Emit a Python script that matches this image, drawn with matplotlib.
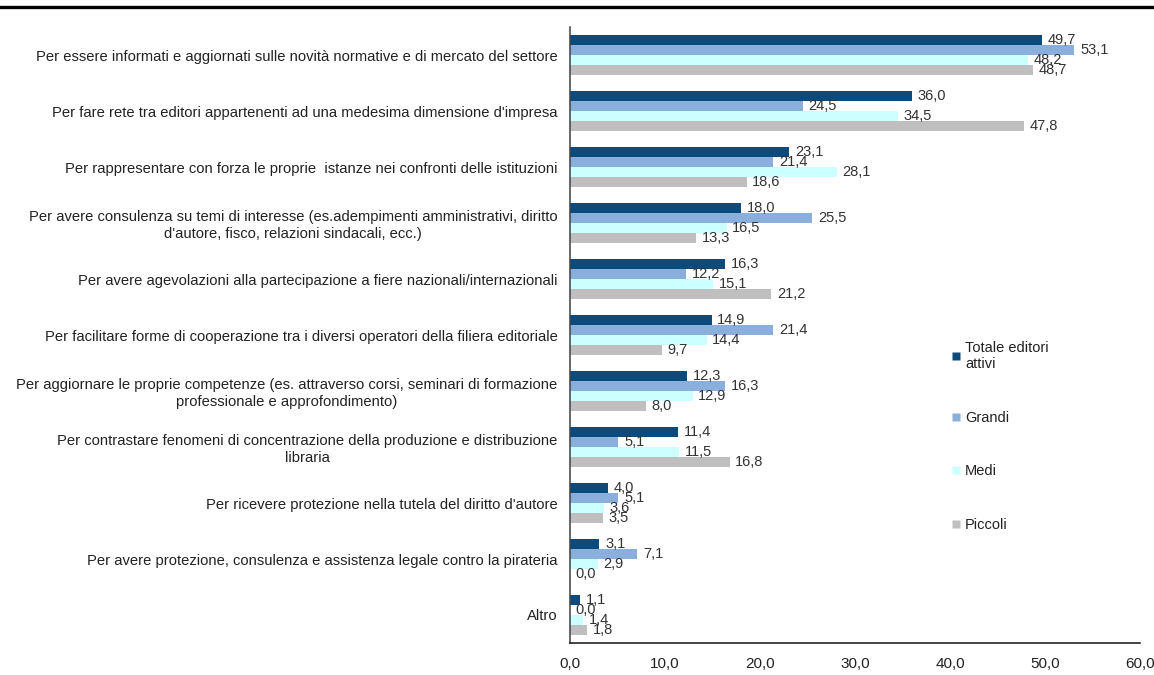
import matplotlib
matplotlib.use("Agg")
import matplotlib.pyplot as plt
from matplotlib.lines import Line2D
import numpy as np

plt.rcParams['font.family'] = ['Liberation Sans', 'DejaVu Sans']

# motivi di adesione alle associazioni di categoria (%)
motivi = [
    "Per essere informati e aggiornati sulle novità normative e di mercato del settore",
    "Per fare rete tra editori appartenenti ad una medesima dimensione d'impresa",
    "Per rappresentare con forza le proprie  istanze nei confronti delle istituzioni",
    "Per avere consulenza su temi di interesse (es.adempimenti amministrativi, diritto\nd'autore, fisco, relazioni sindacali, ecc.)",
    "Per avere agevolazioni alla partecipazione a fiere nazionali/internazionali",
    "Per facilitare forme di cooperazione tra i diversi operatori della filiera editoriale",
    "Per aggiornare le proprie competenze (es. attraverso corsi, seminari di formazione\nprofessionale e approfondimento)",
    "Per contrastare fenomeni di concentrazione della produzione e distribuzione\nlibraria",
    "Per ricevere protezione nella tutela del diritto d'autore",
    "Per avere protezione, consulenza e assistenza legale contro la pirateria",
    "Altro",
]

totale = [49.7, 36.0, 23.1, 18.0, 16.3, 14.9, 12.3, 11.4, 4.0, 3.1, 1.1]
grandi = [53.1, 24.5, 21.4, 25.5, 12.2, 21.4, 16.3, 5.1, 5.1, 7.1, 0.0]
medi = [48.2, 34.5, 28.1, 16.5, 15.1, 14.4, 12.9, 11.5, 3.6, 2.9, 1.4]
piccoli = [48.7, 47.8, 18.6, 13.3, 21.2, 9.7, 8.0, 16.8, 3.5, 0.0, 1.8]

serie = [
    ("Totale editori\nattivi", totale, "#0B4A7C"),
    ("Grandi", grandi, "#8BAFDD"),
    ("Medi", medi, "#CCFFFF"),
    ("Piccoli", piccoli, "#BFBFBF"),
]

fig = plt.figure(figsize=(11.54, 6.75), dpi=100)
ax = fig.add_axes([570 / 1154, 1 - 643 / 675, 570 / 1154, 616 / 675])

y = np.arange(len(motivi))
h = 0.183
handles = []
for i, (nome, valori, colore) in enumerate(serie):
    pos = y + (i - 1.5) * h
    ax.barh(pos, valori, height=h, color=colore, edgecolor='none')
    for p, v in zip(pos, valori):
        ax.annotate(f"{v:.1f}".replace(".", ","), (v, p), xytext=(4, 0),
                    textcoords="offset points", ha="left", va="center",
                    fontsize=10.5, color="#333333")
    handles.append(Line2D([], [], marker="s", linestyle="none", markersize=6,
                          markerfacecolor=colore, markeredgecolor="none", label=nome))

ax.set_ylim(len(motivi) - 0.5, -0.5)
ax.set_xlim(0, 60)
ax.set_xticks(range(0, 61, 10))
ax.set_xticklabels([f"{t},0" for t in range(0, 61, 10)])
ax.set_yticks(y)
ax.set_yticklabels(motivi)
for lab in ax.get_yticklabels():
    lab.set_multialignment("center")
ax.tick_params(axis="x", length=0, labelsize=11, colors="#222222", pad=10)
ax.tick_params(axis="y", length=0, labelsize=10.6, colors="#222222", pad=9)

for s in ("top", "right"):
    ax.spines[s].set_visible(False)
ax.spines["left"].set_color("#404040")
ax.spines["bottom"].set_color("#111111")
ax.spines["left"].set_linewidth(1.1)
ax.spines["bottom"].set_linewidth(1.1)

leg = ax.legend(handles=handles, loc="upper left", bbox_to_anchor=(0.66, 0.50),
                frameon=False, fontsize=10.5, handlelength=0.6, handletextpad=0.3,
                labelspacing=2.72, borderaxespad=0)
for t in leg.get_texts():
    t.set_color("#222222")

# riga di separazione in testa
fig.add_artist(Line2D([0, 1], [1 - 7 / 675] * 2, transform=fig.transFigure,
                      color="black", linewidth=2.4))

fig.savefig("out.png", dpi=100)
